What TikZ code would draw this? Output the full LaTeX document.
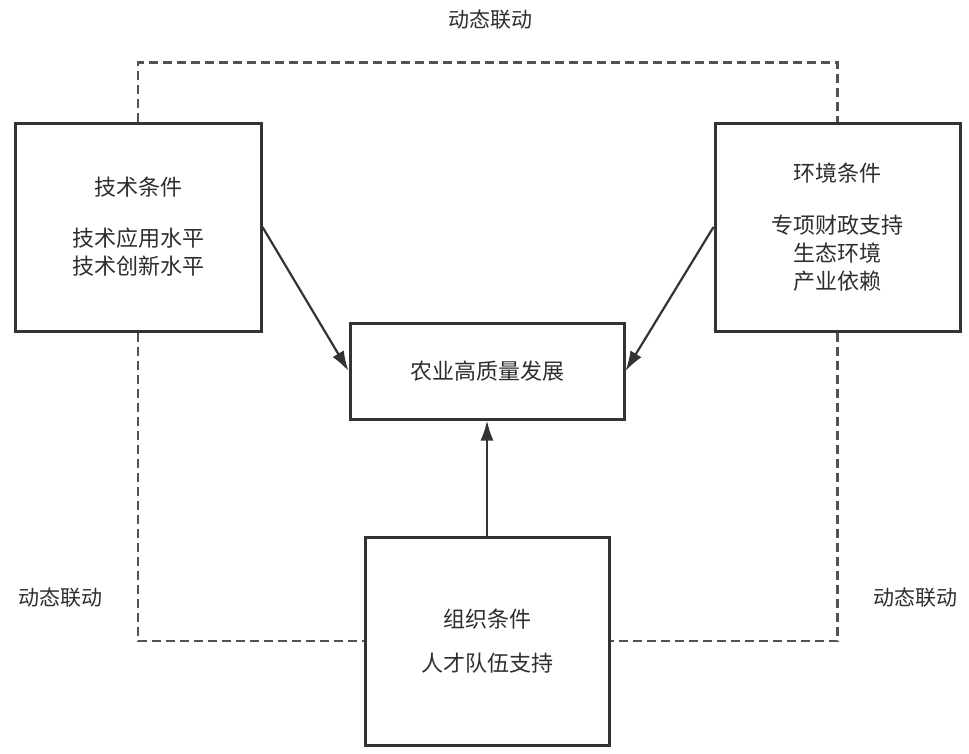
\documentclass[tikz,border=0pt]{standalone}
\usepackage{fontspec}
\setmainfont{Noto Sans CJK SC}
\usetikzlibrary{arrows.meta,positioning}
\definecolor{linegray}{HTML}{333333}
\definecolor{textgray}{HTML}{2E2E2E}

\begin{document}
\begin{tikzpicture}[x=1pt,y=-1pt]
\tikzstyle{condbox}=[rectangle,line width=3pt,draw=linegray,fill=white,
text=textgray,align=center,inner sep=0pt,
font=\fontsize{22}{28}\selectfont]
\tikzstyle{linklabel}=[text=textgray,font=\fontsize{21}{24}\selectfont]
\tikzstyle{linkline}=[line width=2.6pt,draw=linegray!85,dash pattern=on 9pt off 5pt]
\tikzstyle{pointer}=[line width=2.2pt,draw=linegray,-{Latex[length=20pt,width=13pt]}]

\useasboundingbox (0,0) rectangle (969,753);

% condition boxes
\node[condbox,minimum width=246pt,minimum height=208pt] at (138,227) (tech)
 {技术条件\\[23pt]技术应用水平\\技术创新水平};
\node[condbox,minimum width=245pt,minimum height=208pt] at (837.5,227) (env)
 {环境条件\\[24pt]专项财政支持\\生态环境\\产业依赖};
\node[condbox,minimum width=274pt,minimum height=96pt] at (487,371) (goal)
 {农业高质量发展};
\node[condbox,minimum width=244pt,minimum height=208pt] at (487,641) (org)
 {组织条件\\[16pt]人才队伍支持};

% dynamic links
\draw[linkline] (tech.north) -- ++(0,-59) -| (env.north);
\draw[linkline] (tech.south) |- (org.west);
\draw[linkline] (env.south) |- (org.east);
\node[linklabel] at (490,20) (toplink) {动态联动};
\node[linklabel] at (60,598) (leftlink) {动态联动};
\node[linklabel] at (915,598) (rightlink) {动态联动};

\draw[pointer] (tech.east) -- (goal.west);
\draw[pointer] (env.west) -- (goal.east);
\draw[pointer] (org.north) -- (goal.south);

\end{tikzpicture}
\end{document}
